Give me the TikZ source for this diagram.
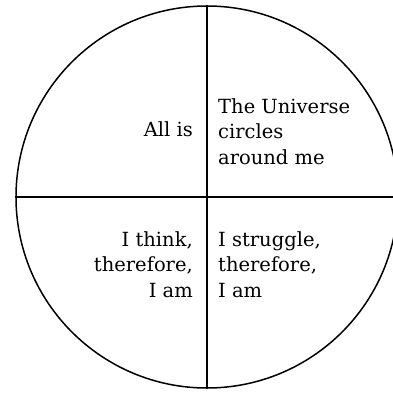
\documentclass[tikz,border=0pt]{standalone}
\usepackage{fontspec}
\setmainfont{DejaVu Serif}
\tikzset{
  lbl/.style={inner sep=0pt, font=\fontsize{19.5}{25.5}\selectfont},
  lft/.style={lbl, align=right, anchor=base east},
  rgt/.style={lbl, align=left, anchor=base west},
  divider/.style={line width=1.5pt}
}
\begin{document}
\begin{tikzpicture}[x=1pt,y=1pt]
\useasboundingbox (-207,-195) rectangle (186,197);
\clip (-207,-195) rectangle (186,197);
\node[draw, line width=1.5pt, circle, minimum size=382pt, inner sep=0pt] (c) at (0,0) {};
\draw[divider] (c.north) -- (c.south);
\draw[divider] (c.west) -- (c.east);
\node[lft] (ul) at (-14,61) {All is};
\node[rgt] (ur) at (11,33) {The Universe\\circles\\around me};
\node[lft] (ll) at (-14,-100) {I think,\\therefore,\\I am};
\node[rgt] (lr) at (11,-100) {I struggle,\\therefore,\\I am};
\end{tikzpicture}
\end{document}
